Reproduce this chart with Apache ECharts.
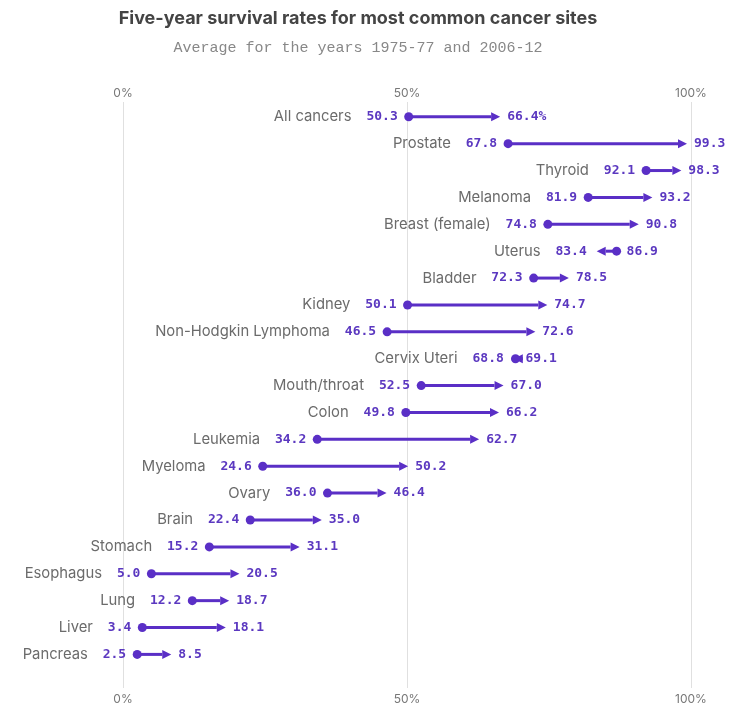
<!DOCTYPE html>
<html>
<head>
<meta charset="utf-8">
<script src="https://cdn.jsdelivr.net/npm/echarts@6/dist/echarts.min.js"></script>
<style>
  html, body { margin: 0; padding: 0; background: #fff; }
  #chart { width: 732px; height: 708px; }
</style>
</head>
<body>
<div id="chart"></div>
<script>
// cancer sites, top to bottom
const sites = ['All cancers', 'Prostate', 'Thyroid', 'Melanoma', 'Breast (female)', 'Uterus',
  'Bladder', 'Kidney', 'Non-Hodgkin Lymphoma', 'Cervix Uteri', 'Mouth/throat', 'Colon',
  'Leukemia', 'Myeloma', 'Ovary', 'Brain', 'Stomach', 'Esophagus', 'Lung', 'Liver', 'Pancreas'];
// 1975-77 averages
const rate1975 = [50.3, 67.8, 92.1, 81.9, 74.8, 86.9, 72.3, 50.1, 46.5, 69.1, 52.5, 49.8,
  34.2, 24.6, 36.0, 22.4, 15.2, 5.0, 12.2, 3.4, 2.5];
// 2006-12 averages
const rate2006 = [66.4, 99.3, 98.3, 93.2, 90.8, 83.4, 78.5, 74.7, 72.6, 68.8, 67.0, 66.2,
  62.7, 50.2, 46.4, 35.0, 31.1, 20.5, 18.7, 18.1, 8.5];
const tickLabels = ['0%', '50%', '100%'];

const purple = '#5a2fc6';
const valueColor = '#5b38c0';
const grey = '#6b6b6b';
const monoFont = '"DejaVu Sans Mono", "Liberation Mono", monospace';
const sansFont = 'Inter, Lato, "Noto Sans", sans-serif';

var chart = echarts.init(document.getElementById('chart'));

const data = sites.map((s, i) => [i, rate1975[i], rate2006[i]]);

function fmt(v, i) {
  return v.toFixed(1) + (i === 0 ? '%' : '');
}

function renderItem(params, api) {
  const i = api.value(0);
  const a = api.value(1);
  const b = api.value(2);
  const p0 = api.coord([a, i]);
  const p1 = api.coord([b, i]);
  const y = p0[1];
  const dir = b >= a ? 1 : -1;
  const headLen = 9, headW = 4.5;
  const base = p1[0] - dir * headLen;
  const children = [];

  children.push({
    type: 'line',
    shape: { x1: p0[0], y1: y, x2: base, y2: y },
    style: { stroke: purple, lineWidth: 3 }
  });
  children.push({
    type: 'polygon',
    shape: { points: [[p1[0], y], [base, y - headW], [base, y + headW]] },
    style: { fill: purple }
  });
  children.push({
    type: 'circle',
    shape: { cx: p0[0], cy: y, r: 4.5 },
    style: { fill: purple }
  });

  // left value sits next to the leftmost mark, right value next to the rightmost
  let leftVal, rightVal, leftEdge, rightEdge;
  if (dir > 0) {
    leftVal = fmt(a, -1); rightVal = fmt(b, i);
    leftEdge = p0[0] - 11; rightEdge = p1[0] + 7;
  } else {
    leftVal = fmt(b, -1); rightVal = fmt(a, i);
    leftEdge = p1[0] - 10; rightEdge = p0[0] + 10;
  }
  const valW = leftVal.length * 7.8;

  children.push({
    type: 'text',
    style: {
      x: leftEdge, y: y, text: leftVal, align: 'right', verticalAlign: 'middle',
      fill: valueColor, font: 'bold 13px ' + monoFont
    }
  });
  children.push({
    type: 'text',
    style: {
      x: rightEdge, y: y, text: rightVal, align: 'left', verticalAlign: 'middle',
      fill: valueColor, font: 'bold 13px ' + monoFont
    }
  });
  children.push({
    type: 'text',
    style: {
      x: leftEdge - valW - 15, y: y, text: sites[i], align: 'right', verticalAlign: 'middle',
      fill: grey, font: '14.8px ' + sansFont
    }
  });

  return { type: 'group', children: children };
}

var option = {
  animation: false,
  title: {
    text: 'Five-year survival rates for most common cancer sites',
    subtext: 'Average for the years 1975-77 and 2006-12',
    left: 353,
    textAlign: 'center',
    top: 5,
    itemGap: 13,
    textStyle: { fontSize: 18, fontWeight: 'bold', color: '#444', fontFamily: sansFont },
    subtextStyle: { fontSize: 15, color: '#888', fontFamily: '"Liberation Mono", monospace' }
  },
  grid: { left: 123, right: 41, top: 102, bottom: 20 },
  xAxis: [
    {
      type: 'value', position: 'top', min: 0, max: 100, interval: 50,
      axisLine: { show: false }, axisTick: { show: false },
      splitLine: { show: true, lineStyle: { color: '#e0e0e0', width: 1 } },
      axisLabel: {
        color: '#777', fontSize: 12, fontFamily: sansFont, margin: 3,
        formatter: v => tickLabels[Math.round(v / 50)]
      }
    },
    {
      type: 'value', position: 'bottom', min: 0, max: 100, interval: 50,
      axisLine: { show: false }, axisTick: { show: false }, splitLine: { show: false },
      axisLabel: {
        color: '#777', fontSize: 12, fontFamily: sansFont, margin: 5,
        formatter: v => tickLabels[Math.round(v / 50)]
      }
    }
  ],
  yAxis: {
    type: 'value', inverse: true, min: -0.55, max: 21.25, show: false
  },
  series: [{
    type: 'custom',
    renderItem: renderItem,
    encode: { x: [1, 2], y: 0 },
    data: data,
    clip: false
  }]
};

chart.setOption(option);
</script>
</body>
</html>
